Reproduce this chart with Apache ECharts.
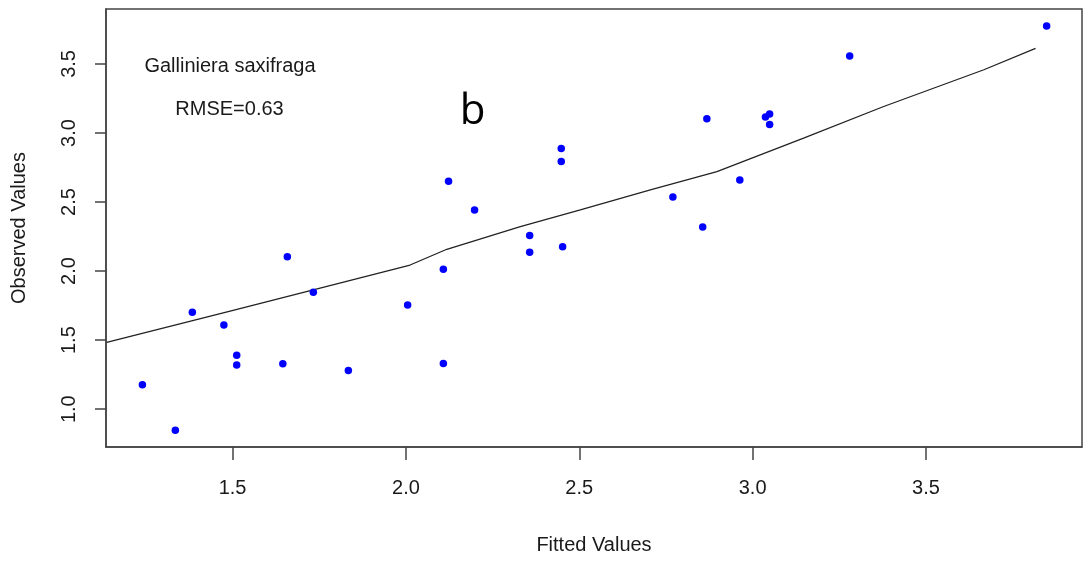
<!DOCTYPE html>
<html>
<head>
<meta charset="utf-8">
<script src="https://cdn.jsdelivr.net/npm/echarts@6/dist/echarts.min.js"></script>
<style>
html,body{margin:0;padding:0;background:#fff;}
#chart{width:1089px;height:563px;}
</style>
</head>
<body>
<div id="chart"></div>
<script>
// Observed vs fitted points
const fittedX = [1.240,1.335,1.384,1.475,1.512,1.512,1.645,1.658,1.733,1.834,2.005,2.108,2.108,2.123,2.198,2.357,2.357,2.448,2.448,2.452,2.770,2.856,2.868,2.963,3.037,3.049,3.049,3.280,3.848];
const observedY = [1.176,0.848,1.701,1.609,1.391,1.319,1.328,2.104,1.846,1.280,1.754,2.013,1.331,2.651,2.443,2.257,2.136,2.887,2.793,2.177,2.537,2.320,3.103,2.660,3.115,3.137,3.061,3.557,3.775];
// Smooth fit line
const lineX = [1.137,1.493,2.012,2.118,2.330,2.503,2.705,2.897,3.147,3.378,3.667,3.816];
const lineY = [1.483,1.710,2.044,2.158,2.322,2.443,2.588,2.721,2.963,3.192,3.458,3.613];
// Tick labels
const xTicks = [1.5,2.0,2.5,3.0,3.5];
const yTicks = [1.0,1.5,2.0,2.5,3.0,3.5];
const xName = 'Fitted Values';
const yName = 'Observed Values';
const speciesLabel = 'Galliniera saxifraga';
const rmseLabel = 'RMSE=0.63';
const panelLabel = 'b';

const scatterData = fittedX.map((x,i)=>[x, observedY[i]]);
const lineData = lineX.map((x,i)=>[x, lineY[i]]);
const FONT = "'Liberation Sans', Arial, sans-serif";
const TXT = '#1a1a1a';
const AX = '#444';

const chart = echarts.init(document.getElementById('chart'), null, {renderer:'canvas'});
chart.setOption({
  backgroundColor:'#fff',
  animation:false,
  grid:{left:106, top:9, width:976, height:438, show:true, borderColor:AX, borderWidth:1.5, backgroundColor:'transparent'},
  xAxis:{
    type:'value', min:1.135, max:3.95,
    name:xName, nameLocation:'middle', nameGap:88,
    nameTextStyle:{fontFamily:FONT, fontSize:20, color:TXT},
    axisLine:{show:true, lineStyle:{color:AX, width:1.5}},
    axisTick:{show:true, length:13, customValues:xTicks, lineStyle:{color:AX, width:1.5}},
    axisLabel:{customValues:xTicks, margin:31, fontFamily:FONT, fontSize:20, color:TXT, formatter:v=>v.toFixed(1)},
    splitLine:{show:false}
  },
  yAxis:{
    type:'value', min:0.726, max:3.898,
    name:yName, nameLocation:'middle', nameGap:77, nameRotate:90,
    nameTextStyle:{fontFamily:FONT, fontSize:20, color:TXT},
    axisLine:{show:true, lineStyle:{color:AX, width:1.5}},
    axisTick:{show:true, length:11, customValues:yTicks, lineStyle:{color:AX, width:1.5}},
    axisLabel:{customValues:yTicks, rotate:90, margin:27, fontFamily:FONT, fontSize:20, color:TXT, formatter:v=>v.toFixed(1)},
    splitLine:{show:false}
  },
  series:[
    {type:'line', data:lineData, symbol:'none', lineStyle:{color:'#222', width:1.3}, z:2, silent:true},
    {type:'scatter', data:scatterData, symbol:'circle', symbolSize:7.5, itemStyle:{color:'#0000ff', opacity:1}, z:3, silent:true}
  ],
  graphic:[
    {type:'text', x:230, y:66, style:{text:speciesLabel, font:"20px 'Liberation Sans', Arial, sans-serif", fill:TXT, align:'center', verticalAlign:'middle'}},
    {type:'text', x:229.5, y:109.5, style:{text:rmseLabel, font:"20px 'Liberation Sans', Arial, sans-serif", fill:TXT, align:'center', verticalAlign:'middle'}},
    {type:'text', x:472.5, y:112, style:{text:panelLabel, font:"42px 'Open Sans', 'Noto Sans', sans-serif", fill:'#000', align:'center', verticalAlign:'middle'}}
  ]
});
</script>
</body>
</html>
